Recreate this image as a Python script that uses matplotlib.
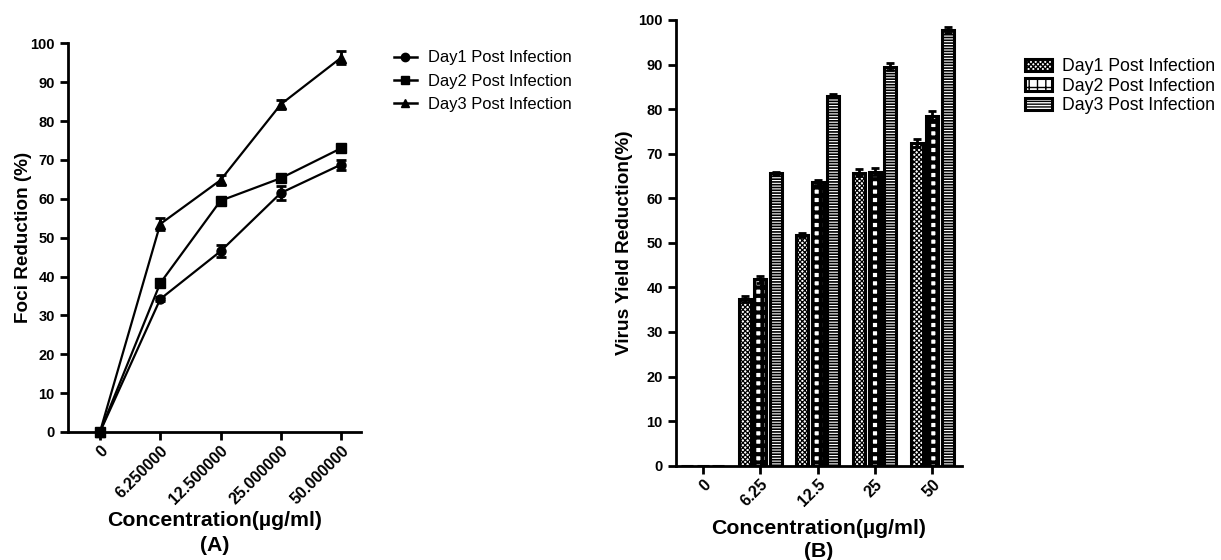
import numpy as np
import matplotlib
matplotlib.use("Agg")
import matplotlib.pyplot as plt
from matplotlib.lines import Line2D

plt.rcParams['font.family'] = ['Liberation Sans', 'DejaVu Sans']

# data
conc_a = ["0", "6.250000", "12.500000", "25.000000", "50.000000"]
conc_b = ["0", "6.25", "12.5", "25", "50"]
series = ["Day1 Post Infection", "Day2 Post Infection", "Day3 Post Infection"]

foci_day1 = [0, 34.2, 46.5, 61.5, 68.8]
foci_day2 = [0, 38.3, 59.5, 65.3, 73.0]
foci_day3 = [0, 53.5, 64.8, 84.3, 96.3]
foci_err1 = [0, 0.6, 1.5, 1.8, 1.3]
foci_err2 = [0, 0.6, 0.5, 0.5, 0.5]
foci_err3 = [0, 1.6, 1.3, 1.1, 1.6]

vy_day1 = [0, 37.4, 51.7, 65.7, 72.4]
vy_day2 = [0, 41.8, 63.6, 66.0, 78.4]
vy_day3 = [0, 65.6, 83.0, 89.5, 97.8]
vy_err1 = [0, 0.7, 0.5, 0.8, 0.8]
vy_err2 = [0, 0.8, 0.6, 0.8, 1.2]
vy_err3 = [0, 0.4, 0.3, 0.8, 0.7]

fig = plt.figure(figsize=(12.21, 5.6), dpi=100)

def style(ax):
    for s in ['top', 'right']:
        ax.spines[s].set_visible(False)
    for s in ['left', 'bottom']:
        ax.spines[s].set_linewidth(2)
    ax.tick_params(width=2, length=6)
    ax.tick_params(axis='y', labelsize=10.5)
    ax.tick_params(axis='x', labelsize=11.5, pad=2)
    ax.set_ylim(0, 100)
    ax.set_yticks(range(0, 101, 10))
    for lab in ax.get_yticklabels() + ax.get_xticklabels():
        lab.set_fontweight('bold')

# panel A
ax1 = fig.add_axes([0.0557, 0.2286, 0.2400, 0.6941])
x = np.arange(len(conc_a))
markers = ['o', 's', '^']
handles = []
for vals, errs, m, lab in zip([foci_day1, foci_day2, foci_day3],
                              [foci_err1, foci_err2, foci_err3], markers, series):
    ax1.errorbar(x, vals, yerr=errs, color='black', marker=m, markersize=6.5,
                 linewidth=1.6, elinewidth=2, capsize=3.5, capthick=2,
                 clip_on=False)
    handles.append(Line2D([], [], color='black', marker=m, markersize=6,
                          linewidth=1.8, label=lab))
ax1.set_xlim(-0.53, 4.33)
ax1.set_xticks(x)
ax1.set_xticklabels(conc_a, rotation=45, ha='right', rotation_mode='anchor')
style(ax1)
ax1.set_ylabel("Foci Reduction (%)", fontsize=13.6, fontweight='bold', labelpad=-1)
ax1.set_xlabel("Concentration(\u00b5g/ml)\n(A)", fontsize=15.3, fontweight='bold',
               linespacing=1.38, labelpad=3)
ax1.legend(handles=handles, loc='upper left', bbox_to_anchor=(1.06, 1.02),
           frameon=False, fontsize=11.9, handlelength=1.4, handletextpad=0.7,
           labelspacing=0.5)

# panel B
ax2 = fig.add_axes([0.5536, 0.1684, 0.2343, 0.7959])
xb = np.arange(len(conc_b))
w = 0.21
off = 0.27
hatches = ['xxxxxxx', '++', '------']
hatch_lw = [0.9, 3.0, 1.2]
for i, (vals, errs, h, lab) in enumerate(zip([vy_day1, vy_day2, vy_day3],
                                             [vy_err1, vy_err2, vy_err3], hatches, series)):
    with plt.rc_context({'hatch.linewidth': hatch_lw[i]}):
        ax2.bar(xb + (i - 1) * off, vals, width=w, yerr=errs, color='white',
                edgecolor='black', linewidth=2.2, hatch=h, label=lab,
                error_kw=dict(elinewidth=2, capsize=3, capthick=2, ecolor='black'))
ax2.set_xlim(-0.47, 4.52)
ax2.set_xticks(xb)
ax2.set_xticklabels(conc_b, rotation=45, ha='right', rotation_mode='anchor')
style(ax2)
ax2.set_ylabel("Virus Yield Reduction(%)", fontsize=13.7, fontweight='bold', labelpad=4)
ax2.set_xlabel("Concentration(\u00b5g/ml)\n(B)", fontsize=15.3, fontweight='bold',
               linespacing=1.22, labelpad=7)
ax2.legend(loc='upper left', bbox_to_anchor=(1.165, 0.95), frameon=False,
           fontsize=12.7, handlelength=1.5, handleheight=0.7, labelspacing=0.15,
           handletextpad=0.6)

fig.savefig("out.png", dpi=100)
